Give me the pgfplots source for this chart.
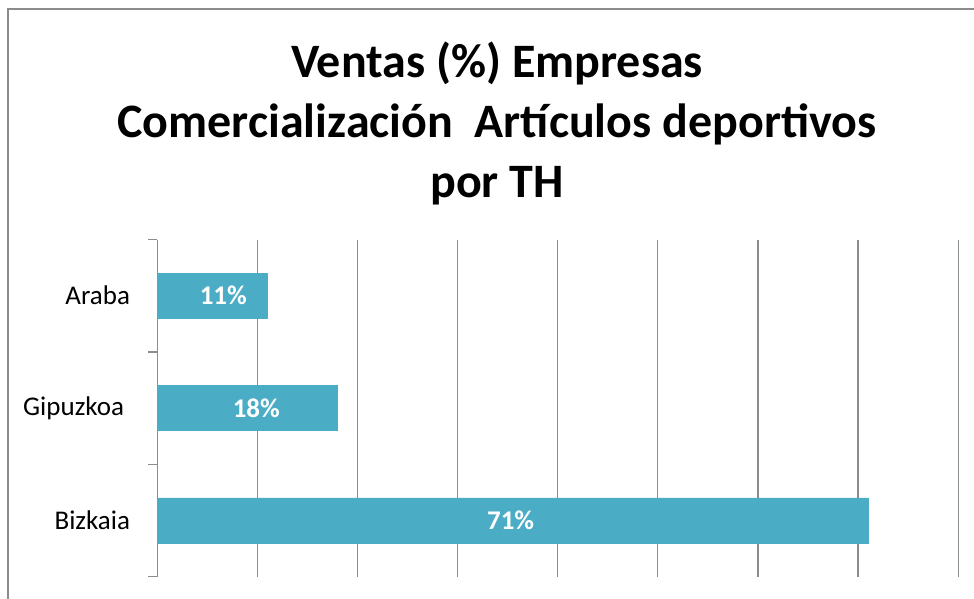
\documentclass[border=0pt]{standalone}
\usepackage{pgfplots}
\pgfplotsset{compat=1.18}
\usepackage{fontspec}
\setmainfont{Carlito}
\definecolor{barc}{HTML}{4BACC6}
\definecolor{gridc}{HTML}{8C8C8C}
\begin{document}
\begin{tikzpicture}[x=1pt,y=1pt]
\path[use as bounding box] (0,0) rectangle (974,599);
\draw[gridc, line width=1.5pt] (8,-5) -- (8,590) -- (980,590);
\node[align=center, font=\fontsize{48}{60}\selectfont\bfseries] at (497,476)
 {Ventas (\%) Empresas\\Comercialización\ \ Artículos deportivos\\por TH};
\begin{axis}[
  at={(157,20)}, anchor=south west,
  width=801pt, height=337pt, scale only axis,
  xmin=0, xmax=80, ymin=-0.5, ymax=2.5,
  axis lines*=left,
  x axis line style={draw=none},
  y axis line style={gridc, line width=1.3pt},
  xtick={0,10,...,80}, xticklabels={}, 
  xmajorgrids, grid style={gridc, line width=1.3pt},
  ytick={0,1,2}, yticklabels={Bizkaia,Gipuzkoa\kern6pt,Araba},
  minor ytick={-0.5,0.5,1.5,2.5},
  major tick length=0pt, minor tick length=9pt, tick align=outside,
  minor tick style={gridc, line width=1.3pt},
  yticklabel style={font=\fontsize{27}{30}\selectfont, anchor=east, inner sep=0pt, xshift=-27pt},
  clip=false,
]
\addplot[xbar, bar width=0.4, fill=barc, draw=barc] coordinates {(71,0) (18,1) (11,2)};
\addplot[draw=none, mark=none, nodes near coords, point meta=explicit symbolic,
  nodes near coords style={anchor=center, text=white, font=\fontsize{27}{30}\selectfont\bfseries}]
  coordinates {(35.3,0) [71\%] (9.9,1) [18\%] (6.6,2) [11\%]};
\end{axis}
\end{tikzpicture}
\end{document}
